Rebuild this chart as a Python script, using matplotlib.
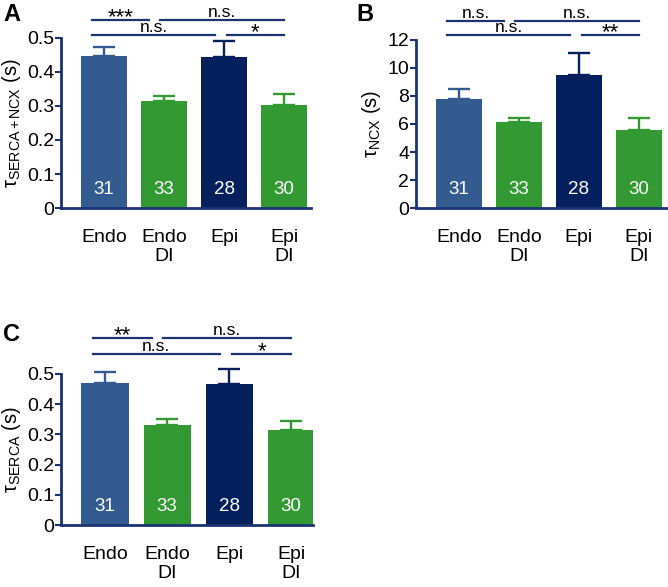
import matplotlib
matplotlib.use("Agg")
import matplotlib.pyplot as plt
import matplotlib.transforms as mtransforms
import numpy as np

plt.rcParams['font.family'] = ['Liberation Sans', 'DejaVu Sans']
plt.rcParams['mathtext.fontset'] = 'custom'
plt.rcParams['mathtext.rm'] = 'Liberation Sans'
plt.rcParams['mathtext.it'] = 'Liberation Sans:italic'

# data
groups = ['Endo', 'Endo\nDI', 'Epi', 'Epi\nDI']
n_cells = ['31', '33', '28', '30']

tau_both = [0.446, 0.315, 0.445, 0.303]
tau_both_err = [0.029, 0.013, 0.045, 0.033]

tau_ncx = [7.80, 6.11, 9.50, 5.54]
tau_ncx_err = [0.70, 0.31, 1.60, 0.88]

tau_serca = [0.471, 0.331, 0.467, 0.314]
tau_serca_err = [0.036, 0.020, 0.048, 0.029]

# (x from, x to, row, label) row 1 = upper line
sig_A = [(-0.2, 0.75, 1, '***'), (0.93, 3.0, 1, 'n.s.'), (-0.2, 1.85, 0, 'n.s.'), (2.05, 3.0, 0, '*')]
sig_B = [(-0.2, 0.75, 1, 'n.s.'), (0.93, 3.0, 1, 'n.s.'), (-0.2, 1.85, 0, 'n.s.'), (2.05, 3.0, 0, '**')]
sig_C = [(-0.2, 0.75, 1, '**'), (0.93, 3.0, 1, 'n.s.'), (-0.2, 1.85, 0, 'n.s.'), (2.05, 3.0, 0, '*')]

colors = ['#335b8f', '#339933', '#06205e', '#339933']
navy = '#1c3373'

W, H = 668, 587
fig = plt.figure(figsize=(W / 100, H / 100), dpi=100)


def px_axes(l, r, b, t):
    return fig.add_axes([l / W, 1 - b / H, (r - l) / W, (b - t) / H])


def panel(ax, vals, errs, sig, ylim, yticks, yticklabels, ylabel, rows, xlim):
    x = np.arange(len(vals))
    for i in range(len(vals)):
        ax.bar(x[i], vals[i], width=0.76, color=colors[i], zorder=2)
        ax.errorbar(x[i], vals[i], yerr=[[0], [errs[i]]], color=colors[i],
                    capsize=8, elinewidth=1.7, capthick=1.7, clip_on=False, zorder=3)
        ax.annotate(n_cells[i], (x[i], 0), xytext=(0, 7), textcoords='offset points',
                    ha='center', va='bottom', color='white', fontsize=13.5, zorder=4)
    ax.set_xlim(*xlim)
    ax.set_ylim(*ylim)
    ax.set_yticks(yticks)
    ax.set_yticklabels(yticklabels)
    ax.set_xticks(x)
    ax.set_xticklabels(groups, fontsize=14)
    ax.tick_params(axis='x', length=0, pad=15)
    ax.tick_params(axis='y', length=4, width=1.5, color=navy, labelsize=14, pad=1)
    for s in ['top', 'right']:
        ax.spines[s].set_visible(False)
    for s in ['left', 'bottom']:
        ax.spines[s].set_linewidth(2)
        ax.spines[s].set_color(navy)
    ax.set_ylabel(ylabel, fontsize=14.5, labelpad=3)
    trans = mtransforms.blended_transform_factory(ax.transData, ax.transAxes)
    for x0, x1, row, lab in sig:
        yy = rows[row]
        ax.plot([x0, x1], [yy, yy], color=navy, lw=1.6, transform=trans, clip_on=False)
        if lab.startswith('*'):
            ax.annotate(lab, ((x0 + x1) / 2, yy), xycoords=trans, xytext=(0, -2.5),
                        textcoords='offset points', ha='center', va='baseline', fontsize=16)
        else:
            ax.annotate(lab, ((x0 + x1) / 2, yy), xycoords=trans, xytext=(0, 2),
                        textcoords='offset points', ha='center', va='baseline', fontsize=12.5)


axA = px_axes(61, 311, 208, 38)
panel(axA, tau_both, tau_both_err, sig_A, (0, 0.5),
      [0, 0.1, 0.2, 0.3, 0.4, 0.5], ['0', '0.1', '0.2', '0.3', '0.4', '0.5'],
      r'τ$_{\mathrm{SERCA+NCX}}$ (s)', (1.018, 1.106), (-0.717, 3.45))

axB = px_axes(416, 667, 208, 40)
panel(axB, tau_ncx, tau_ncx_err, sig_B, (0, 12),
      [0, 2, 4, 6, 8, 10, 12], ['0', '2', '4', '6', '8', '10', '12'],
      r'τ$_{\mathrm{NCX}}$ (s)', (1.03, 1.113), (-0.717, 3.47))

axC = px_axes(61, 313, 525, 374)
panel(axC, tau_serca, tau_serca_err, sig_C, (0, 0.5),
      [0, 0.1, 0.2, 0.3, 0.4, 0.5], ['0', '0.1', '0.2', '0.3', '0.4', '0.5'],
      r'τ$_{\mathrm{SERCA}}$ (s)', (1.132, 1.238), (-0.71, 3.35))

fig.text(3 / W, 1 - 21 / H, 'A', fontsize=17, fontweight='bold')
fig.text(356 / W, 1 - 21 / H, 'B', fontsize=17, fontweight='bold')
fig.text(3 / W, 1 - 341 / H, 'C', fontsize=17, fontweight='bold')

fig.savefig('out.png', dpi=100)
